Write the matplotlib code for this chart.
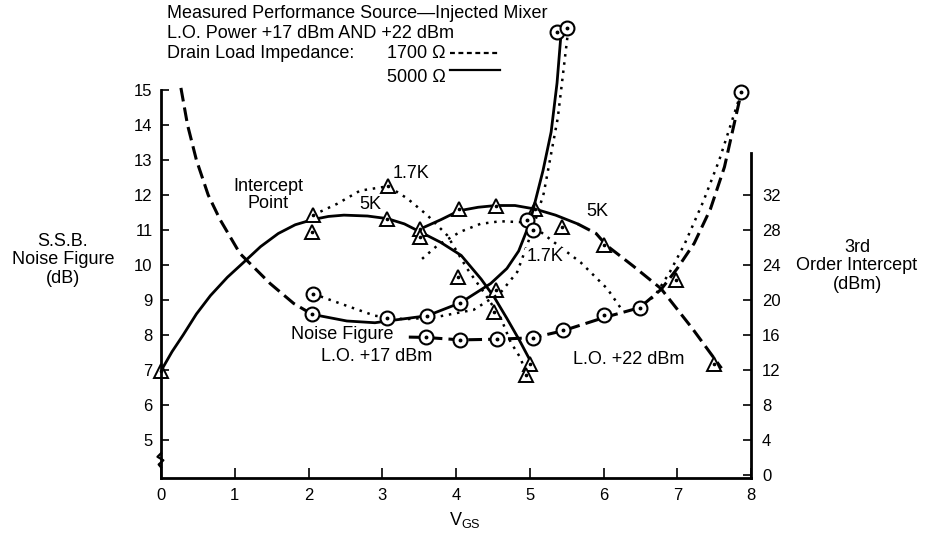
import matplotlib
matplotlib.use("Agg")
import matplotlib.pyplot as plt
from matplotlib.lines import Line2D

plt.rcParams['font.family'] = ['Liberation Sans', 'DejaVu Sans']
plt.rcParams['mathtext.fontset'] = 'custom'
plt.rcParams['mathtext.rm'] = 'Liberation Sans'

# ---------------- data ----------------
x_ticks = [0, 1, 2, 3, 4, 5, 6, 7, 8]
nf_ticks = [5, 6, 7, 8, 9, 10, 11, 12, 13, 14, 15]
ip_ticks = [0, 4, 8, 12, 16, 20, 24, 28, 32]

# Intercept point (dBm, right axis), L.O. +17 dBm
ip17_5k_line_x = [0.0, 0.15, 0.3, 0.48, 0.67, 0.9, 1.12, 1.35, 1.59, 1.82, 2.06, 2.27, 2.48,
                  2.8, 3.07, 3.3, 3.51, 3.79, 4.07, 4.34, 4.52, 4.69, 4.86, 5.03]
ip17_5k_line_y = [11.9, 14.1, 16.0, 18.4, 20.5, 22.6, 24.3, 26.1, 27.6, 28.6, 29.2, 29.55, 29.7,
                  29.6, 29.3, 28.7, 27.8, 26.6, 25.1, 22.4, 20.3, 17.9, 15.4, 12.7]
ip17_5k_pts_x = [0.0, 2.05, 3.07, 3.51, 4.54, 5.0]
ip17_5k_pts_y = [11.9, 27.8, 29.3, 28.1, 21.1, 12.7]

ip17_1k7_line_x = [2.06, 2.39, 2.7, 3.08, 3.34, 3.61, 3.88, 4.15, 4.4, 4.61, 4.74, 4.88, 4.95]
ip17_1k7_line_y = [29.7, 31.0, 32.5, 33.0, 31.6, 29.7, 27.4, 23.6, 20.6, 17.9, 15.2, 13.3, 11.4]
ip17_1k7_pts_x = [2.06, 3.08, 3.51, 4.03, 4.51, 4.95]
ip17_1k7_pts_y = [29.7, 33.0, 27.2, 22.6, 18.6, 11.4]

# Intercept point, L.O. +22 dBm
ip22_5k_solid_x = [3.51, 3.8, 4.04, 4.3, 4.54, 4.8, 5.07, 5.35, 5.65]
ip22_5k_solid_y = [28.1, 29.2, 30.2, 30.6, 30.8, 30.8, 30.4, 29.7, 28.7]
ip22_5k_dash_x = [5.65, 5.9, 6.04, 6.4, 6.78, 7.2, 7.6]
ip22_5k_dash_y = [28.7, 27.6, 26.25, 23.9, 21.3, 16.8, 12.2]
ip22_5k_pts_x = [4.04, 4.54, 5.07, 5.44, 6.01, 6.98, 7.5]
ip22_5k_pts_y = [30.4, 30.8, 30.4, 28.3, 26.25, 22.25, 12.7]

ip22_1k7_line_x = [3.54, 3.75, 4.06, 4.33, 4.6, 4.88, 5.1, 5.33, 5.69, 6.05, 6.24]
ip22_1k7_line_y = [24.7, 26.25, 27.8, 28.7, 29.0, 28.9, 28.1, 26.6, 24.3, 21.3, 19.0]

# Noise figure (dB, left axis), L.O. +17 dBm
nf17_5k_dash_x = [0.27, 0.36, 0.48, 0.64, 0.8, 1.07, 1.48, 1.8, 2.05]
nf17_5k_dash_y = [15.06, 14.0, 13.0, 12.0, 11.3, 10.33, 9.47, 8.9, 8.59]
nf17_5k_solid_x = [2.05, 2.52, 2.9, 3.07, 3.61, 4.06, 4.47, 4.69, 4.85, 5.0, 5.06, 5.18, 5.29, 5.37, 5.42]
nf17_5k_solid_y = [8.59, 8.4, 8.35, 8.4, 8.55, 8.92, 9.47, 9.9, 10.4, 11.2, 11.7, 12.7, 13.8, 15.2, 16.5]
nf17_5k_pts_x = [2.05, 3.07, 3.61, 4.06, 4.96, 5.04, 5.37]
nf17_5k_pts_y = [8.59, 8.49, 8.55, 8.92, 11.29, 11.0, 16.67]

nf17_1k7_line_x = [2.06, 2.43, 2.9, 3.3, 3.7, 4.24, 4.6, 4.83, 4.97, 5.08, 5.19, 5.38, 5.51]
nf17_1k7_line_y = [9.18, 8.9, 8.55, 8.45, 8.5, 8.72, 9.2, 9.8, 10.6, 11.3, 12.05, 14.2, 16.5]
nf17_1k7_pts_x = [2.06, 5.51]
nf17_1k7_pts_y = [9.18, 16.76]

# Noise figure, L.O. +22 dBm
nf22_5k_line_x = [3.36, 3.59, 4.06, 4.56, 5.04, 5.45, 6.01, 6.49, 6.78, 7.0, 7.23, 7.45, 7.64, 7.87]
nf22_5k_line_y = [7.94, 7.93, 7.86, 7.88, 7.92, 8.12, 8.5, 8.78, 9.3, 9.9, 10.62, 11.6, 12.8, 14.95]
nf22_pts_x = [3.59, 4.06, 4.56, 5.04, 5.45, 6.01, 6.5, 7.87]
nf22_pts_y = [7.93, 7.86, 7.88, 7.9, 8.14, 8.56, 8.77, 14.95]
nf22_1k7_line_x = [6.55, 6.69, 6.9, 7.1, 7.35, 7.57, 7.87]
nf22_1k7_line_y = [8.9, 9.1, 9.8, 10.6, 11.8, 13.0, 14.95]

# ---------------- styles ----------------
W, H = 926, 533
LW = 2.0
SOLID = dict(color='black', lw=LW, solid_capstyle='round', solid_joinstyle='round', zorder=2)
DOT = dict(color='black', lw=1.8, dashes=(1.0, 2.3), zorder=2)
LDASH = dict(color='black', lw=2.2, dashes=(4.5, 2.0), zorder=2)
FS = 13


def circles(a, xs, ys):
    a.plot(xs, ys, ls='none', marker='o', ms=10, mfc='white', mec='black', mew=1.5,
           zorder=5, clip_on=False)
    a.plot(xs, ys, ls='none', marker='o', ms=1.8, color='black', zorder=6, clip_on=False)


def triangles(a, xs, ys):
    a.plot(xs, ys, ls='none', marker='^', ms=10, mfc='white', mec='black', mew=1.4,
           zorder=5, clip_on=False)
    a.plot(xs, ys, ls='none', marker='o', ms=1.6, color='black', zorder=6, clip_on=False)


fig = plt.figure(figsize=(W / 100, H / 100), dpi=100)
ax = fig.add_axes([161 / W, 1 - 478 / H, (751 - 161) / W, (478 - 20) / H])
ax.set_xlim(0, 8)
ax.set_ylim(3.914, 17.0)
ax2 = ax.twinx()
ax2.set_ylim(-0.34, 52.0)
for a in (ax, ax2):
    a.patch.set_visible(False)
    for s in a.spines.values():
        s.set_visible(False)

# spines
ax.spines['left'].set_visible(True)
ax.spines['left'].set_bounds(3.914, 15)
ax.spines['bottom'].set_visible(True)
ax.spines['bottom'].set_bounds(0, 8)
ax2.spines['right'].set_visible(True)
ax2.spines['right'].set_bounds(-0.34, 36.8)
for s in (ax.spines['left'], ax.spines['bottom'], ax2.spines['right']):
    s.set_linewidth(2.0)
    s.set_capstyle('projecting')

ax.set_xticks(x_ticks)
ax.set_yticks(nf_ticks)
ax2.set_yticks(ip_ticks)
ax.tick_params(axis='x', direction='in', length=7, width=1.2, pad=7, labelsize=12)
ax.tick_params(axis='y', direction='in', length=6, width=1.2, pad=6, labelsize=12)
ax2.tick_params(axis='y', direction='in', length=6, width=1.2, pad=8, labelsize=12)

# axis break squiggle on the left axis
ax.plot([0.0, -0.006, 0.004, -0.004, 0.0], [4.62, 4.52, 4.42, 4.30, 4.22],
        transform=ax.get_yaxis_transform(), color='black', lw=1.6, clip_on=False, zorder=3)

# ---- intercept curves (right axis) ----
ax2.plot(ip17_5k_line_x, ip17_5k_line_y, **SOLID)
ax2.plot(ip17_1k7_line_x, ip17_1k7_line_y, **DOT)
ax2.plot(ip22_5k_solid_x, ip22_5k_solid_y, **SOLID)
ax2.plot(ip22_5k_dash_x, ip22_5k_dash_y, **LDASH)
ax2.plot(ip22_1k7_line_x, ip22_1k7_line_y, **DOT)
triangles(ax2, ip17_5k_pts_x, ip17_5k_pts_y)
triangles(ax2, ip17_1k7_pts_x, ip17_1k7_pts_y)
triangles(ax2, ip22_5k_pts_x, ip22_5k_pts_y)

# ---- noise figure curves (left axis) ----
ax.plot(nf17_5k_dash_x, nf17_5k_dash_y, **LDASH)
ax.plot(nf17_5k_solid_x, nf17_5k_solid_y, **SOLID)
ax.plot(nf17_1k7_line_x, nf17_1k7_line_y, **DOT)
ax.plot(nf22_5k_line_x, nf22_5k_line_y, **LDASH)
ax.plot(nf22_1k7_line_x, nf22_1k7_line_y, **DOT)
circles(ax, nf17_5k_pts_x, nf17_5k_pts_y)
circles(ax, nf17_1k7_pts_x, nf17_1k7_pts_y)
circles(ax, nf22_pts_x, nf22_pts_y)

ax.set_zorder(ax2.get_zorder() + 1)

# ---- annotations ----
ax.text(1.45, 12.0, 'Intercept\nPoint', ha='center', va='center', fontsize=FS, linespacing=1.05)
ax.text(3.39, 12.6, '1.7K', ha='center', va='center', fontsize=FS)
ax.text(2.84, 11.74, '5K', ha='center', va='center', fontsize=FS)
ax.text(5.92, 11.52, '5K', ha='center', va='center', fontsize=FS)
ax.text(5.2, 10.23, '1.7K', ha='center', va='center', fontsize=FS,
        bbox=dict(facecolor='white', edgecolor='none', pad=0.5))
ax.text(2.46, 8.0, 'Noise Figure', ha='center', va='center', fontsize=FS,
        bbox=dict(facecolor='white', edgecolor='none', pad=0.5), zorder=4)
ax.text(2.93, 7.38, 'L.O. +17 dBm', ha='center', va='center', fontsize=FS)
ax.text(6.34, 7.29, 'L.O. +22 dBm', ha='center', va='center', fontsize=FS)

# axis titles
fig.text(63 / W, 1 - 260 / H, 'S.S.B.\nNoise Figure\n(dB)', ha='center', va='center',
         fontsize=FS, linespacing=1.1)
fig.text(857 / W, 1 - 266 / H, '3rd\nOrder Intercept\n(dBm)', ha='center', va='center',
         fontsize=FS, linespacing=1.1)
fig.text(465 / W, 1 - 520 / H, r'V$_{\mathrm{GS}}$', ha='center', va='center', fontsize=FS)

# header
fig.text(167 / W, 1 - 14 / H, 'Measured Performance Source\u2014Injected Mixer', ha='left', va='center', fontsize=FS)
fig.text(167 / W, 1 - 33 / H, 'L.O. Power +17 dBm AND +22 dBm', ha='left', va='center', fontsize=FS)
fig.text(167 / W, 1 - 53 / H, 'Drain Load Impedance:', ha='left', va='center', fontsize=FS)
fig.text(387 / W, 1 - 53 / H, '1700 \u03a9', ha='left', va='center', fontsize=FS)
fig.text(387 / W, 1 - 77 / H, '5000 \u03a9', ha='left', va='center', fontsize=FS)
fig.add_artist(Line2D([450 / W, 500 / W], [1 - 53 / H, 1 - 53 / H], color='black', lw=1.6, dashes=(2.2, 1.6)))
fig.add_artist(Line2D([450 / W, 500 / W], [1 - 70 / H, 1 - 70 / H], color='black', lw=1.6))

fig.savefig('out.png', dpi=100)
